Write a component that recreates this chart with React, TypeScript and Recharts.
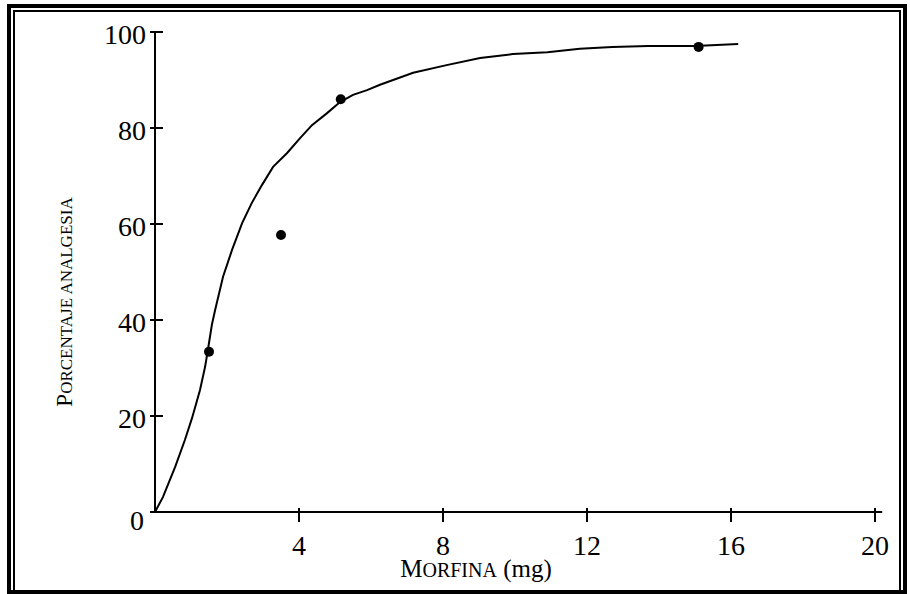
import { ComposedChart, Line, Scatter, XAxis, YAxis, Label } from "recharts";

// fitted curve
const curveX = [0, 0.22, 0.56, 0.83, 1.03, 1.25, 1.39, 1.47, 1.58, 1.67, 1.89, 2.14, 2.42, 2.69, 2.97, 3.28, 3.67, 4.03, 4.36, 4.78, 5.14, 5.5, 5.89, 6.25, 7.17, 8.1, 9.03, 9.94, 10.9, 11.8, 12.7, 13.7, 15.0, 16.2];
const curveY = [0, 3.1, 9.4, 15, 19.6, 25.4, 30.2, 33.8, 39, 42.1, 49, 54.6, 60.2, 64.4, 68.1, 71.9, 74.8, 77.9, 80.6, 83.1, 85.4, 86.9, 87.9, 89, 91.5, 93.1, 94.6, 95.4, 95.8, 96.5, 96.9, 97.1, 97.1, 97.5];

// observed points
const pointX = [1.5, 3.5, 5.16, 15.1];
const pointY = [33.4, 57.7, 86.0, 96.9];

const xTicks = [4, 8, 12, 16, 20];
const yTicks = [0, 20, 40, 60, 80, 100];

const curve = curveX.map((x, i) => ({ x, y: curveY[i] }));
const points = pointX.map((x, i) => ({ x, y: pointY[i] }));

const FONT = '"Liberation Serif", "Times New Roman", serif';

function YTick(props: any) {
  const { x, y, payload } = props;
  const zero = payload.value === 0;
  return (
    <g>
      <line x1={x - 5} x2={x + 8} y1={y} y2={y} stroke="#000" strokeWidth={2} />
      <text x={zero ? x - 11 : x - 9} y={y + (zero ? 18 : 12)} textAnchor="end" fontSize={28} fontFamily={FONT} fill="#000">
        {payload.value}
      </text>
    </g>
  );
}

function XTick(props: any) {
  const { x, y, payload } = props;
  return (
    <g>
      <line x1={x} x2={x} y1={y - 4} y2={y + 10} stroke="#000" strokeWidth={2} />
      <text x={x} y={y + 43} textAnchor="middle" fontSize={28} fontFamily={FONT} fill="#000">
        {payload.value}
      </text>
    </g>
  );
}

export default function App() {
  return (
    <div style={{ position: "fixed", left: 0, top: 0, width: 910, height: 594, background: "#fff" }}>
      <div style={{ position: "absolute", left: 7, top: 4, width: 900, height: 590, border: "4px solid #000", boxSizing: "border-box" }}>
        <div style={{ position: "absolute", left: 2, top: 2, right: 2, bottom: 0, border: "2px solid #000", borderBottom: "none" }} />
      </div>
      <div style={{ position: "absolute", left: 0, top: 0 }}>
        <ComposedChart width={910} height={594} margin={{ top: 32, right: 27.8, bottom: 52, left: 0 }}>
          <XAxis
            type="number"
            dataKey="x"
            height={30}
            domain={[0, 20.2]}
            ticks={xTicks}
            tick={<XTick />}
            tickLine={false}
            tickSize={0}
            tickMargin={0}
            axisLine={{ stroke: "#000", strokeWidth: 2 }}
            allowDataOverflow
          >
            <Label
              content={() => (
                <text x={476} y={577} textAnchor="middle" fontFamily={FONT} fill="#000" fontSize={25}>
                  <tspan>M</tspan>
                  <tspan fontSize={20}>ORFINA</tspan>
                  <tspan> (mg)</tspan>
                </text>
              )}
            />
          </XAxis>
          <YAxis
            type="number"
            dataKey="y"
            width={155}
            domain={[0, 100]}
            ticks={yTicks}
            tick={<YTick />}
            tickLine={false}
            tickSize={0}
            tickMargin={0}
            axisLine={{ stroke: "#000", strokeWidth: 2 }}
          >
            <Label
              content={() => (
                <text x={72} y={302} transform="rotate(-90, 72, 302)" textAnchor="middle" fontFamily={FONT} fill="#000" fontSize={23}>
                  <tspan>P</tspan>
                  <tspan fontSize={17}>ORCENTAJE ANALGESIA</tspan>
                </text>
              )}
            />
          </YAxis>
          <Line data={curve} dataKey="y" type="linear" stroke="#000" strokeWidth={2} dot={false} activeDot={false} isAnimationActive={false} />
          <Scatter
            data={points}
            dataKey="y"
            fill="#000"
            isAnimationActive={false}
            shape={(p: any) => <circle cx={p.cx} cy={p.cy} r={5} fill="#000" />}
          />
        </ComposedChart>
      </div>
    </div>
  );
}
